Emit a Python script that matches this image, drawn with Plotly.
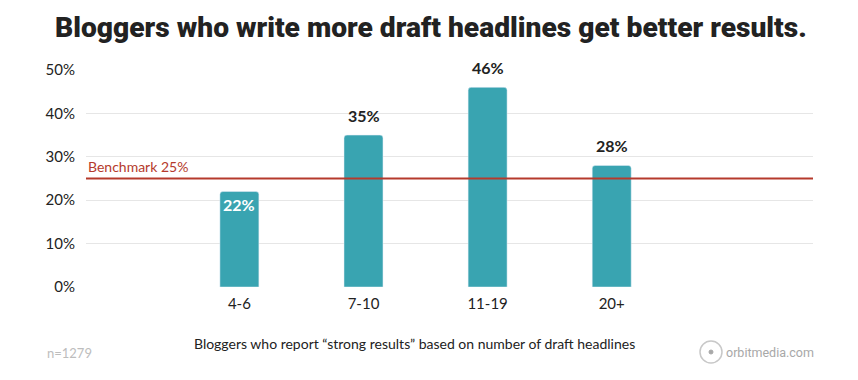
import plotly.graph_objects as go

categories = ["4-6", "7-10", "11-19", "20+"]
values = [22, 35, 46, 28]
labels = ["22%", "35%", "46%", "28%"]
benchmark = 25
y_ticks = [0, 10, 20, 30, 40, 50]
y_tick_labels = ["0%", "10%", "20%", "30%", "40%", "50%"]

TEAL = "#39a4b1"
RED = "#b53a2c"
DARK = "#222222"
FONT = "Lato, 'Open Sans', sans-serif"

# pixel helpers: plot area x 86..813, y 70 (50%)..287 (0%)
def py(px_y):
    return (287 - px_y) / (287 - 70)
def px(px_x):
    return (px_x - 86) / (813 - 86)

fig = go.Figure()
fig.add_trace(go.Bar(
    x=categories, y=values, marker=dict(color=TEAL, cornerradius=3), width=0.314,
    hoverinfo="skip",
))

for c, v, t in zip(categories, values, labels):
    inside = v < benchmark
    fig.add_annotation(
        x=c, y=v, xref="x", yref="y", text="<b>" + t + "</b>", showarrow=False,
        yanchor="middle", yshift=-13 if inside else 20,
        font=dict(family=FONT, size=16, color="white" if inside else DARK),
    )

fig.add_annotation(
    x=0, y=benchmark, xref="paper", yref="y", xanchor="left", yanchor="middle",
    text="Benchmark 25%", showarrow=False, yshift=12,
    font=dict(family=FONT, size=14, color=RED),
)
fig.add_annotation(
    x=px(431), y=py(27), xref="paper", yref="paper", xanchor="center", yanchor="middle",
    text="Bloggers who write more draft headlines get better results.", showarrow=False,
    font=dict(family="Roboto", size=28.2, color=DARK, weight=900),
)
fig.add_annotation(x=px(414), y=py(343), xref="paper", yref="paper", xanchor="center", yanchor="middle",
                   showarrow=False,
                   text="Bloggers who report “strong results” based on number of draft headlines",
                   font=dict(family=FONT, size=14, color=DARK))
fig.add_annotation(x=px(45), y=py(353), xref="paper", yref="paper", xanchor="left", yanchor="middle",
                   showarrow=False, text="n=1279", font=dict(family=FONT, size=13, color="#bdbdbd"))
fig.add_annotation(x=px(816), y=py(352), xref="paper", yref="paper", xanchor="right", yanchor="middle",
                   showarrow=False, text="orbitmedia.com",
                   font=dict(family="Roboto", size=12.5, color="#a8a8a8"))

fig.update_layout(
    width=858, height=380,
    margin=dict(l=86, r=45, t=70, b=93),
    plot_bgcolor="white", paper_bgcolor="white",
    showlegend=False,
    xaxis=dict(range=[-1.236, 4.622], showgrid=False, zeroline=False, showline=False,
               ticks="", ticklabelstandoff=6,
               tickfont=dict(family=FONT, size=15, color=DARK)),
    yaxis=dict(range=[0, 50], tickvals=y_ticks, ticktext=y_tick_labels,
               showgrid=True, gridcolor="#e6e6e6", gridwidth=1, zeroline=False,
               showline=False, ticks="", ticklabelstandoff=10,
               tickfont=dict(family=FONT, size=15, color=DARK)),
)

fig.add_shape(type="line", xref="paper", yref="y", x0=0, x1=1, y0=benchmark, y1=benchmark,
              line=dict(color=RED, width=2), layer="above")
fig.add_shape(type="circle", xref="paper", yref="paper", x0=px(700), x1=px(722), y0=py(363), y1=py(341),
              line=dict(color="#c8c8c8", width=1.5))
fig.add_shape(type="circle", xref="paper", yref="paper", x0=px(709), x1=px(713), y0=py(354), y1=py(350),
              line=dict(color="#a8a8a8", width=1), fillcolor="#a8a8a8")

fig.write_html("out.html", config={"displayModeBar": False})

with open("out.html", encoding="utf-8") as f:
    html = f.read()
html = html.replace("<head>", "<head><style>html,body{margin:0;padding:0;}</style>", 1)
with open("out.html", "w", encoding="utf-8") as f:
    f.write(html)
